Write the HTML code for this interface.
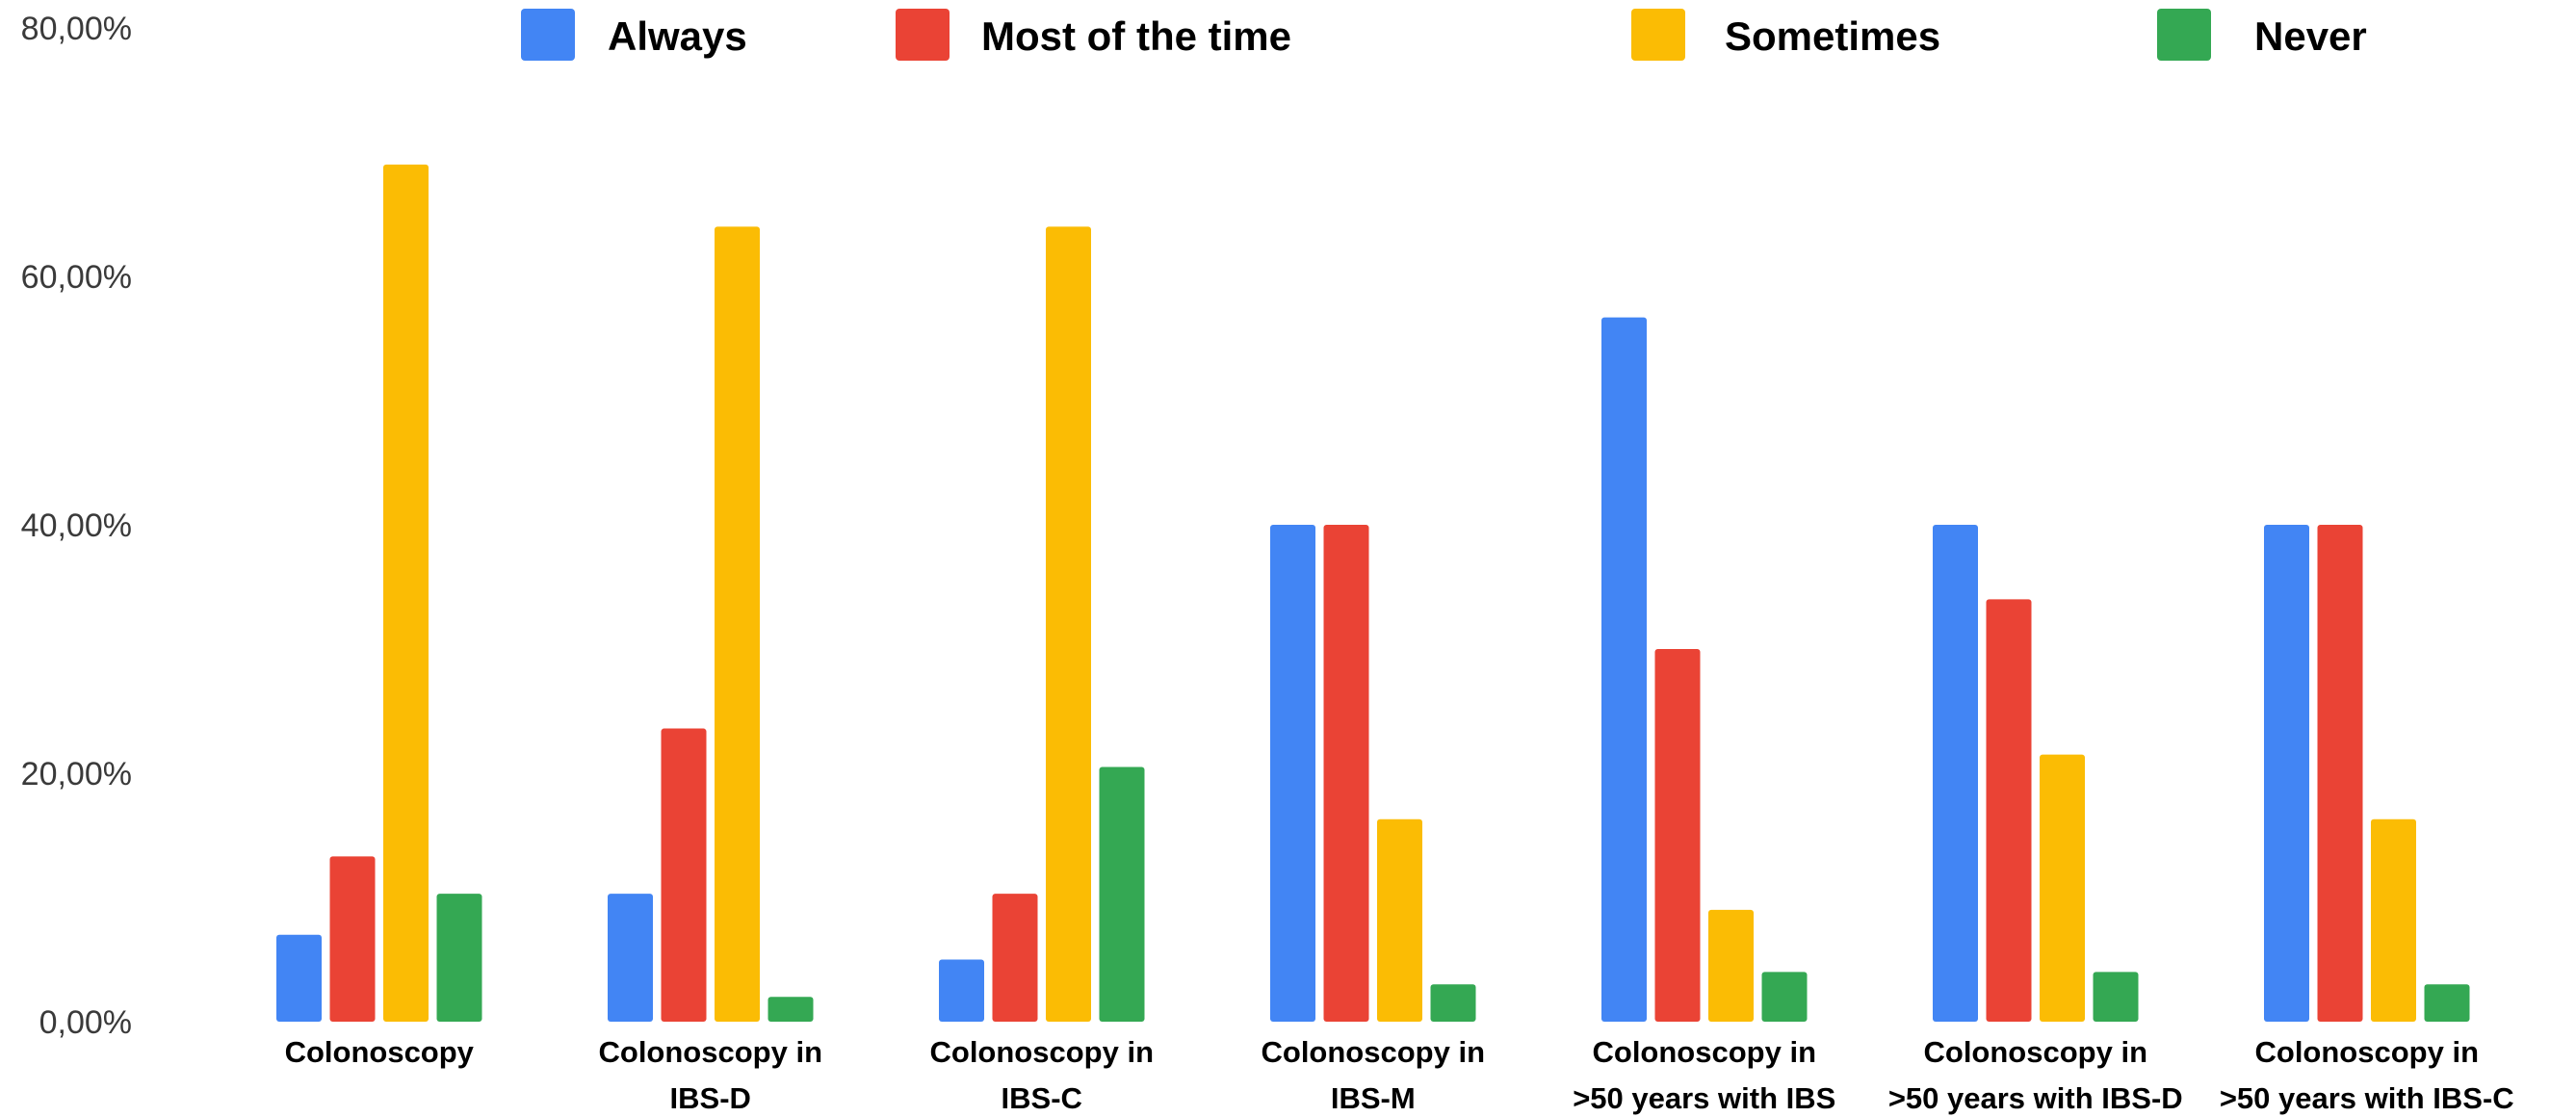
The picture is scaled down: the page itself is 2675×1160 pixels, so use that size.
<!DOCTYPE html>
<html><head><meta charset="utf-8"><style>
html,body{margin:0;padding:0;background:#fff;}
svg{display:block;font-family:"Liberation Sans",Arial,sans-serif;}
</style></head><body>
<svg id="chart" width="2675" height="1160" viewBox="0 0 2675 1160" xmlns="http://www.w3.org/2000/svg"></svg>
<script>
const categories=[["Colonoscopy"],["Colonoscopy in","IBS-D"],["Colonoscopy in","IBS-C"],["Colonoscopy in","IBS-M"],["Colonoscopy in",">50 years with IBS"],["Colonoscopy in",">50 years with IBS-D"],["Colonoscopy in",">50 years with IBS-C"]];
const seriesNames=["Always","Most of the time","Sometimes","Never"];
const always=[7,10.3,5,40,56.7,40,40];
const mostOfTheTime=[13.3,23.6,10.3,40,30,34,40];
const sometimes=[69,64,64,16.3,9,21.5,16.3];
const never=[10.3,2,20.5,3,4,4,3];
const yTicks=[0,20,40,60,80];
const yTickLabels=["0,00%","20,00%","40,00%","60,00%","80,00%"];

const colors=["#4285f4","#ea4335","#fbbc04","#34a853"];
const series=[always,mostOfTheTime,sometimes,never];
const NS="http://www.w3.org/2000/svg";
const svg=document.getElementById('chart');
const baseY=1061, pxPerUnit=12.9;
function y(v){return baseY-v*pxPerUnit;}
const g0=287, gStep=344, bW=47, bStep=55.5;
function x(gi,si){return g0+gi*gStep+si*bStep;}
function mk(tag,attrs,txt){const e=document.createElementNS(NS,tag);for(const k in attrs)e.setAttribute(k,attrs[k]);if(txt!==undefined)e.textContent=txt;svg.appendChild(e);return e;}

yTicks.forEach((t,i)=>{
  const el=mk('text',{x:137,y:y(t)+12,'text-anchor':'end','font-size':34,fill:'#3a3a3a'},yTickLabels[i]);
  
  
});

series.forEach((vals,si)=>{
  vals.forEach((v,gi)=>{
    const r=mk('rect',{x:x(gi,si),y:y(v),width:bW,height:v*pxPerUnit,rx:3,fill:colors[si]});
    
    
  });
});

categories.forEach((lines,gi)=>{
  const cx=x(gi,0)+(3*bStep+bW)/2;
  lines.forEach((ln,li)=>{
    const el=mk('text',{x:cx,y:1103+li*48,'text-anchor':'middle','font-size':31,'font-weight':'bold',fill:'#000'},ln);
    
    
  });
});

const legX=[541,930,1694,2240], legTX=[631,1019,1791,2341];
seriesNames.forEach((n,i)=>{
  const r=mk('rect',{x:legX[i],y:9,width:56,height:54,rx:4,fill:colors[i]});
  
  
  const t=mk('text',{x:legTX[i],y:52,'font-size':42,'font-weight':'bold',fill:'#000'},n);
  
  
});
</script>
</body></html>
